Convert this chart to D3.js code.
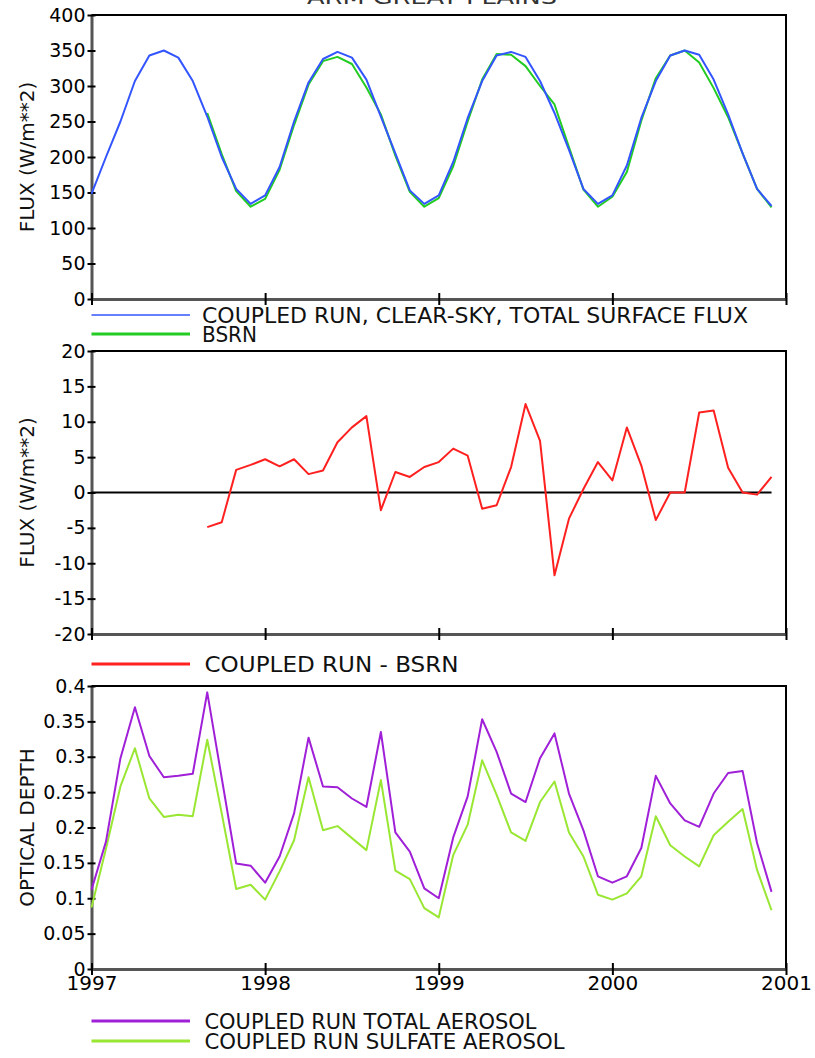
<!DOCTYPE html>
<html>
<head>
<meta charset="utf-8">
<script src="https://cdn.jsdelivr.net/npm/d3@7/dist/d3.min.js"></script>
<style>
body { margin: 0; background: #fff; }
text { font-family: "DejaVu Sans", sans-serif; }
</style>
</head>
<body>
<svg id="plot" width="815" height="1058"></svg>
<script>
//monthly time steps, Jan 1997 - Dec 2000
var months = [
  "1997-01","1997-02","1997-03","1997-04","1997-05","1997-06","1997-07","1997-08","1997-09","1997-10","1997-11","1997-12",
  "1998-01","1998-02","1998-03","1998-04","1998-05","1998-06","1998-07","1998-08","1998-09","1998-10","1998-11","1998-12",
  "1999-01","1999-02","1999-03","1999-04","1999-05","1999-06","1999-07","1999-08","1999-09","1999-10","1999-11","1999-12",
  "2000-01","2000-02","2000-03","2000-04","2000-05","2000-06","2000-07","2000-08","2000-09","2000-10","2000-11","2000-12"
];
var years = [1997, 1998, 1999, 2000, 2001];

//clear-sky total surface flux (W/m**2)
var fluxModel = [148,200,250,307,343,350,340,307,257,200,155,134,
                 146,186,250,305,338,348,340,309,257,205,153,134,
                 146,193,255,307,343,348,341,307,262,210,155,134,
                 146,188,255,307,343,350,344,309,260,205,155,131];
var fluxBsrn = [null,null,null,null,null,null,null,null,262,204,152,130,
                141,182,245,302,335,341,331,298,260,202,151,130,
                142,187,250,309,345,344,328,300,274,214,154,130,
                144,179,251,311,343,350,333,297,256,205,155,129];
//coupled run - BSRN
var fluxDiff = [null,null,null,null,null,null,null,null,-4.9,-4.2,3.2,3.9,
                4.7,3.7,4.7,2.6,3.1,7.1,9.2,10.8,-2.5,2.9,2.2,3.6,
                4.3,6.2,5.2,-2.3,-1.8,3.6,12.5,7.3,-11.7,-3.7,0.5,4.3,
                1.7,9.2,3.8,-3.9,0,0,11.3,11.6,3.5,0,-0.3,2.2];
//aerosol optical depth
var aodTotal = [0.112,0.18,0.298,0.37,0.301,0.271,0.273,0.276,0.391,0.27,0.149,0.146,
                0.122,0.159,0.22,0.327,0.258,0.257,0.241,0.229,0.335,0.193,0.166,0.114,
                0.1,0.186,0.244,0.353,0.307,0.248,0.236,0.298,0.333,0.248,0.196,0.131,
                0.122,0.131,0.171,0.273,0.234,0.21,0.201,0.248,0.277,0.28,0.178,0.109];
var aodSulfate = [0.087,0.17,0.258,0.312,0.241,0.215,0.218,0.216,0.324,0.22,0.113,0.119,
                  0.098,0.138,0.182,0.271,0.196,0.202,0.185,0.168,0.267,0.139,0.127,0.086,
                  0.073,0.161,0.204,0.295,0.246,0.193,0.181,0.236,0.265,0.193,0.159,0.105,
                  0.098,0.107,0.131,0.216,0.175,0.159,0.145,0.189,0.208,0.226,0.14,0.083];

var fluxTicks = [0,50,100,150,200,250,300,350,400];
var diffTicks = [-20,-15,-10,-5,0,5,10,15,20];
var aodTicks = [0,0.05,0.1,0.15,0.2,0.25,0.3,0.35,0.4];

var svg = d3.select('#plot');
var left = 91.5, right = 786;

//fractional year for each month
var parseMonth = d3.timeParse('%Y-%m');
var monthX = months.map(function(m) { var d = parseMonth(m); return d.getFullYear() + d.getMonth() / 12; });

var x = d3.scaleLinear().domain([1997, 2001]).range([left, right]);

//title, mostly cut off at the top of the page
svg.append('text')
    .attr('x', 432)
    .attr('y', 4)
    .attr('text-anchor', 'middle')
    .attr('textLength', 250)
    .attr('lengthAdjust', 'spacingAndGlyphs')
    .style('font-size', '20px')
    .style('fill', '#333')
    .text('ARM GREAT PLAINS');

//draws frame, axes and axis title for one panel, returns the y scale
function panel(top, bottom, domain, ticks, title, showYears) {
    var y = d3.scaleLinear().domain(domain).range([bottom, top]);

    //top + right border
    svg.append('path')
        .attr('d', 'M' + left + ',' + top + 'H' + right + 'V' + bottom)
        .style('fill', 'none')
        .style('stroke', '#000')
        .style('stroke-width', 2);

    var ya = svg.append('g')
        .attr('transform', 'translate(' + left + ',0)')
        .call(d3.axisLeft(y).tickValues(ticks).tickSize(4).tickSizeOuter(0).tickPadding(2)
            .tickFormat(function(d) { return String(+d.toFixed(2)); }));
    ya.selectAll('.tick line').attr('x1', 4).style('stroke', '#000').style('stroke-width', 2);
    ya.selectAll('text').style('font-size', '19px').style('font-family', '"DejaVu Sans", sans-serif').style('fill', '#000');
    ya.select('.domain').style('stroke', '#555').style('stroke-width', 3);

    var xa = svg.append('g')
        .attr('transform', 'translate(0,' + bottom + ')')
        .call(d3.axisBottom(x).tickValues(years).tickSize(6).tickSizeOuter(0).tickPadding(1)
            .tickFormat(showYears ? d3.format('d') : function() { return ''; }));
    xa.selectAll('.tick line').attr('y1', -6).style('stroke', '#000').style('stroke-width', 2);
    xa.selectAll('text').style('font-size', '20px').style('font-family', '"DejaVu Sans", sans-serif').style('fill', '#000');
    xa.select('.domain').style('stroke', '#555').style('stroke-width', 3);

    //axis title
    svg.append('text')
        .attr('transform', 'translate(27,' + ((top + bottom) / 2) + ') rotate(-90)')
        .attr('text-anchor', 'middle')
        .attr('dy', '0.36em')
        .style('font-size', '20px')
        .style('fill', '#111')
        .text(title);
    return y;
}

function series(y, values, color, width) {
    var line = d3.line()
        .defined(function(d) { return d != null; })
        .x(function(d, i) { return x(monthX[i]); })
        .y(function(d) { return y(d); });
    svg.append('path')
        .datum(values)
        .attr('d', line)
        .style('fill', 'none')
        .style('stroke', color)
        .style('stroke-width', width)
        .style('stroke-linejoin', 'round');
}

function legendItem(ly, color, width, label, len, tx) {
    svg.append('line')
        .attr('x1', left).attr('x2', 190)
        .attr('y1', ly).attr('y2', ly)
        .style('stroke', color)
        .style('stroke-width', width);
    svg.append('text')
        .attr('x', tx)
        .attr('y', ly + 7.5)
        .attr('textLength', len)
        .attr('lengthAdjust', 'spacingAndGlyphs')
        .style('font-size', '20.5px')
        .style('fill', '#111')
        .text(label);
}

//top panel - surface flux
var y1 = panel(15, 299, [0, 400], fluxTicks, 'FLUX (W/m**2)', false);
series(y1, fluxBsrn, '#22cc22', 2);
series(y1, fluxModel, '#3355ff', 2);
legendItem(315, '#3355ff', 1.5, 'COUPLED RUN, CLEAR-SKY, TOTAL SURFACE FLUX', 546, 202);
legendItem(334, '#22cc22', 3, 'BSRN', 55, 202);

//middle panel - difference
var y2 = panel(351, 634, [-20, 20], diffTicks, 'FLUX (W/m**2)', false);
svg.append('line')
    .attr('x1', x(1997)).attr('x2', x(monthX[monthX.length - 1]))
    .attr('y1', y2(0)).attr('y2', y2(0))
    .style('stroke', '#000')
    .style('stroke-width', 2);
series(y2, fluxDiff, '#ff2020', 2);
legendItem(664, '#ff2020', 3, 'COUPLED RUN - BSRN', 254, 204.5);

//bottom panel - optical depth
var y3 = panel(686, 969, [0, 0.4], aodTicks, 'OPTICAL DEPTH', true);
series(y3, aodSulfate, '#99e633', 2);
series(y3, aodTotal, '#a020d8', 2);
legendItem(1021, '#a020d8', 3, 'COUPLED RUN TOTAL AEROSOL', 332, 204.5);
legendItem(1041, '#99e633', 3, 'COUPLED RUN SULFATE AEROSOL', 360, 204.5);
</script>
</body>
</html>
